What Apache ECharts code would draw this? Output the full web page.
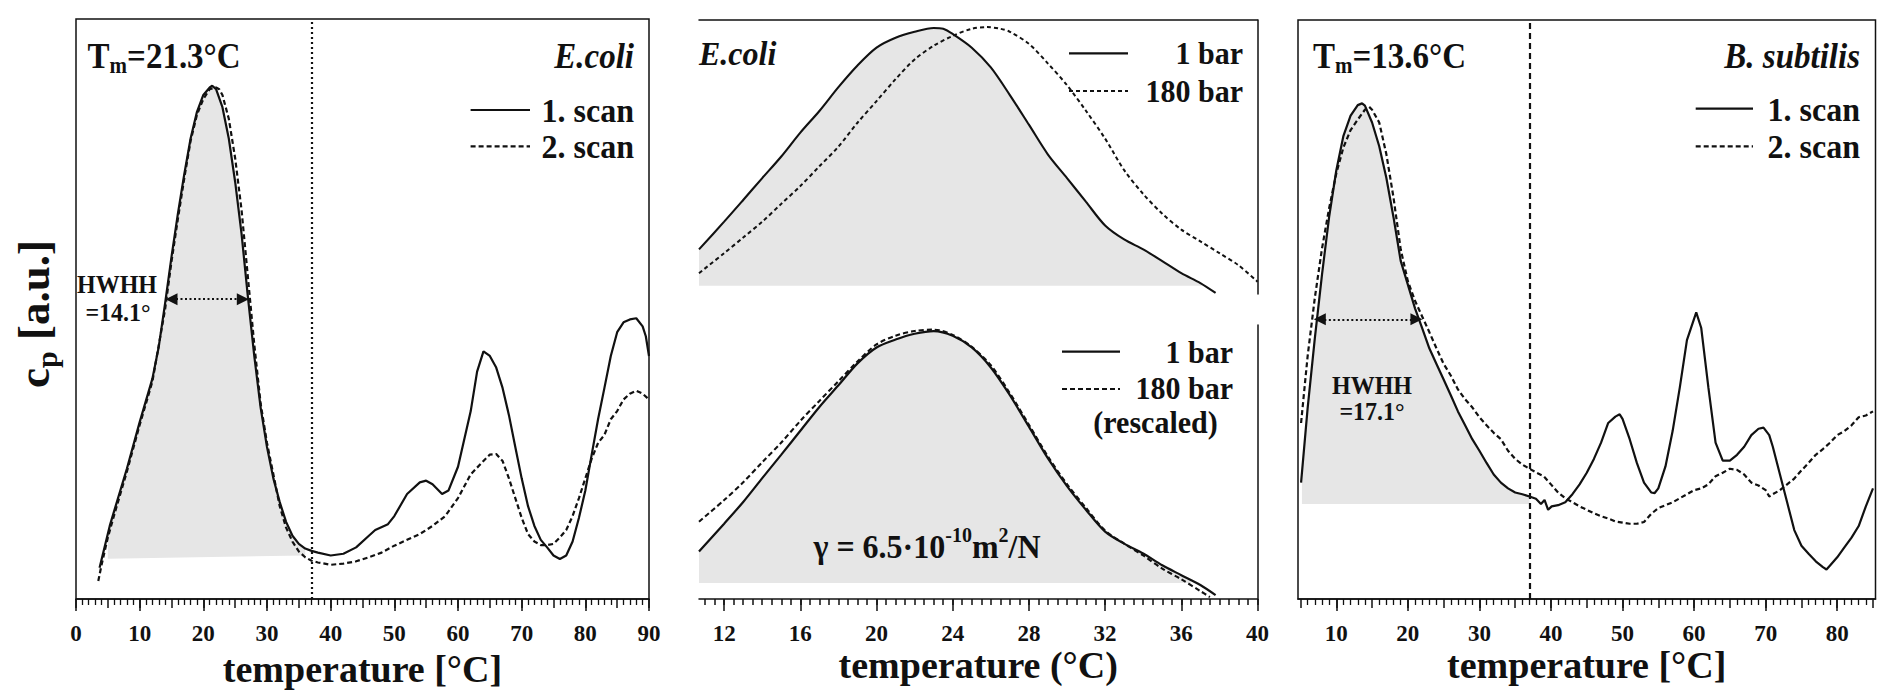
<!DOCTYPE html>
<html>
<head>
<meta charset="utf-8">
<script src="https://cdn.jsdelivr.net/npm/echarts@6/dist/echarts.min.js"></script>
<style>
html, body { margin: 0; padding: 0; background: #fff; }
#chart { width: 1890px; height: 690px; }
</style>
</head>
<body>
<div id="chart"></div>
<script>
// E.coli, two DSC scans [temperature, cp a.u.]
var ecoliScan1 = [[3.7,5.4],[5.3,12.6],[6,15.2],[8,22.5],[10,30.5],[12,38],[13,43.5],[14,51],[15,59],[16,66.4],[17,73.2],[18,79.4],[19,84],[20,86.9],[21,88.2],[21.4,88.5],[22,87.9],[23,84.8],[24,79.4],[25,71.9],[26,63],[27,52.1],[28,41.9],[29,33],[30,26.2],[31,20.8],[32,16.7],[33,13.3],[34,10.9],[35,9.5],[36,8.7],[37,8.3],[38,8],[40,7.5],[42,7.8],[44,8.9],[46,10.9],[47,11.9],[49,12.9],[50,14.3],[52,18.1],[54,20.1],[55,20.4],[56,19.8],[57.5,18.1],[58.5,18.7],[60,22.8],[62,32.4],[63,39.2],[64,42.7],[65,41.9],[66,39.9],[67,36.4],[68,31.7],[69,26.2],[70,20.8],[71,16],[72,12.6],[73,10.2],[74,8.9],[75,7.5],[76,6.9],[77,7.5],[78,9.9],[79,14],[80,18.7],[81,24.9],[82,31],[83,36.4],[84,41.9],[85,46],[86,47.7],[87,48.2],[88,48.4],[89,47],[89.5,45.3],[90,41.9]];
var ecoliScan2 = [[3.5,3.1],[4,5.8],[5,10.6],[6,14.5],[8,22],[10,30],[12,37.5],[14,50],[15,58.2],[16,65.5],[17,72.5],[18,79],[19,83.5],[20,86.2],[21,87.9],[22,88.2],[22.5,87.9],[23,86.9],[24,82.8],[25,76],[26,67.1],[27,55.5],[28,43.9],[29,33.7],[30,26.9],[31,21.5],[32,16],[33,12.3],[34,9.9],[35,8.2],[36,7.2],[37,6.6],[38,6.3],[40,5.9],[42,6.1],[44,6.5],[46,7.2],[48,8],[50,9.2],[52,10.2],[54,11.2],[56,12.6],[58,14.3],[60,17.4],[62,21.5],[64,23.8],[65,24.9],[66,25],[67,23.8],[68,20.8],[69,17.4],[70,14],[71,11.2],[72,9.9],[73,9.3],[74,9.3],[75,9.5],[76,10.6],[77,11.9],[78,14.3],[79,17.4],[80,20.8],[81,24.2],[82,26.9],[83,28.3],[84,31],[85,32.4],[86,34.4],[87,35.4],[88,35.9],[89,35.4],[90,34.4]];
var ecoliFillSpan = [5.0, 36.0];
var ecoliFillBase = [6.95, 7.5];
var ecoliHwhh = [15.0, 26.2, 51.7];
var ecoliTicks = [0, 10, 20, 30, 40, 50, 60, 70, 80, 90];

// E.coli, 1 bar vs 180 bar
var barUpper1 = [[10.68,16.3],[12,26.4],[13,34.3],[14,42.3],[15,50.2],[16,58.9],[17,66.8],[18,75.5],[19,83.4],[20,89.9],[21,93.5],[22,95.7],[23,97.1],[23.5,96.8],[24,94.9],[25,89.9],[26,82.7],[27,72.6],[28,61.8],[29,50.9],[30,42.3],[31,33.6],[32,25],[33,19.9],[34,16.3],[35,12],[36,7.6],[37,4],[37.8,0.4]];
var barUpper180 = [[10.68,7.6],[12,14.9],[13,20.6],[14,26.4],[15,32.9],[16,39.4],[17,46.6],[18,53.8],[19,62.5],[20,70.4],[21,78.4],[22,85.6],[23,90.6],[24,94.2],[25,96.8],[25.8,97.4],[26.5,96.8],[27,95.7],[28,91.3],[29,84.1],[30,76.2],[31,66.8],[32,56.7],[33,45.2],[34,36.5],[35,29.3],[36,23.5],[37,19.2],[38,14.9],[39,10.5],[40,4.5]];
var barLower1 = [[10.68,17.3],[12,27.5],[13,35.4],[14,44.1],[15,52.7],[16,61.4],[17,70.1],[18,78],[19,86],[20,91.8],[21,94.7],[22,96.8],[23,97.8],[24,96.1],[25,91.8],[26,84.5],[27,74.4],[28,62.9],[29,51.3],[30,41.2],[31,32.5],[32,24.6],[33,20.2],[34,16.6],[35,12.3],[36,8.7],[37,5.1],[37.8,1.4]];
var barLower180 = [[10.68,28.2],[12,36.1],[13,42.6],[14,49.9],[15,57.1],[16,65],[17,72.3],[18,79.5],[19,86.7],[20,92.9],[21,96.1],[22,97.8],[23,98.3],[24,96.4],[25,92],[26,85.3],[27,75.1],[28,63.6],[29,52],[30,41.9],[31,33.2],[32,25],[33,20.2],[34,15.9],[35,11.1],[36,7.2],[37,2.9],[37.5,0.7]];
var barUpperSpan = [10.68, 37.25];
var barUpperBase = [3.0, 3.0];
var barLowerSpan = [10.68, 36.5];
var barLowerBase = [5.8, 5.8];
var barTicks = [12, 16, 20, 24, 28, 32, 36, 40];

// B. subtilis, two scans
var bsubScan1 = [[5.08,20.1],[6,33],[7,45],[8,56],[9,66],[10,74],[11,80],[12,83.5],[13,85.3],[13.6,85.6],[14,85.2],[15,82.3],[16,78.2],[17,72.7],[18,65.9],[19,58.4],[20,54.3],[21,50.2],[22,46.8],[23,43.3],[24,40.6],[25,37.9],[26,35.2],[27,32.4],[28,30],[29,27.6],[30,25.6],[31,23.5],[32,21.5],[33,20.1],[34,19.1],[35,18.4],[36,18.1],[37,17.7],[37.9,17.3],[38.6,16.4],[39.1,17.1],[39.6,15.4],[40.1,16],[41,16.2],[42,16.7],[43,18.1],[44,19.8],[45,21.8],[46,24.2],[47,27],[48,30.4],[49,31.5],[49.6,31.9],[50,31.1],[51,27.6],[52,23.5],[53,20.1],[54,18.4],[54.5,18.3],[55,19.1],[56,22.9],[57,29],[58,36.5],[59,44.7],[60.3,49.5],[61,46.8],[62,36.5],[63,27],[64,23.9],[65,23.9],[66,24.9],[67,26.3],[68,28.3],[69,29.4],[69.7,29.6],[70.5,28.3],[71,26.3],[72,21.5],[73,16.7],[74,11.9],[75,9.2],[76,7.8],[77,6.5],[78,5.5],[78.5,5.1],[79,5.8],[80,7.2],[81,8.9],[82,10.6],[83,12.6],[84,16],[85,19.1]];
var bsubScan2 = [[5.08,30.4],[6,42],[7,52],[8,60.5],[9,67.5],[10,73.5],[11,78],[12,81],[13,82.8],[14,84.5],[14.6,85],[15,84.5],[16,82.3],[17,76.8],[18,69.3],[19,60.4],[20,54.9],[21,51.5],[22,48.8],[23,46.1],[24,43.3],[25,40.6],[26,38.6],[27,36.2],[28,34.5],[29,33.1],[30,31.4],[31,30],[32,28.7],[33,27.6],[34,25.6],[35,24.2],[36,23.2],[37,22.5],[38,21.8],[39,21.2],[40,19.8],[41,18.4],[42,17.4],[43,16.7],[44,16],[45,15.4],[46,14.8],[47,14.3],[48,13.9],[49,13.4],[50,13.2],[51,13],[52,13],[53,13.3],[54,14.7],[55,15.7],[56,16.2],[57,16.7],[58,17.4],[59,18.1],[60,18.8],[61,19.1],[62,19.8],[63,21.2],[64,21.8],[65,22.5],[66,22.3],[67,21.5],[68,20.1],[69,19.6],[70,18.8],[70.5,17.7],[71,18.1],[72,18.8],[73,19.8],[74,20.8],[75,22.2],[76,23.5],[77,24.9],[78,25.9],[79,27],[80,28.3],[81,29],[82,30],[83,31.4],[84,31.7],[85,32.4]];
var bsubFillSpan = [5.2, 37];
var bsubFillBase = [16.4, 16.4];
var bsubHwhh = [7.7, 21.2, 48.3];
var bsubTicks = [10, 20, 30, 40, 50, 60, 70, 80];

var chart = echarts.init(document.getElementById('chart'), null, {renderer: 'svg'});

var SERIF = '"Liberation Serif", "Times New Roman", serif';
var INK = '#111';
var GREY = '#e6e6e6';

// panel frames in px
var P1 = {lo: 0, hi: 90, left: 76, right: 649, top: 19, bottom: 599};
var P2 = {lo: 10.68, hi: 40, left: 699, right: 1257.5, top: 20, upperBottom: 294, lowerTop: 325, bottom: 599};
var P3 = {lo: 4.65, hi: 85.35, left: 1298, right: 1875.5, top: 20, bottom: 599};

function box(p, lo, hi, top, bottom, framed) {
    var k = (p.right - p.left) / (p.hi - p.lo);
    var g = {left: p.left + (lo - p.lo) * k, width: (hi - lo) * k, top: top, height: bottom - top,
             containLabel: false, outerBoundsMode: 'none'};
    if (framed) { g.show = true; g.borderColor = INK; g.borderWidth = 1.5; g.backgroundColor = 'transparent'; }
    return g;
}

var lineSt = {show: true, onZero: false, lineStyle: {color: INK, width: 1.5}};
function tickSt(len) { return {show: true, inside: false, length: len, lineStyle: {color: INK, width: 1.5}}; }
var minorSt = {show: true, splitNumber: 5, length: 6, lineStyle: {color: INK, width: 1.3}};
var labelSt = {show: true, margin: 23, color: INK, fontFamily: SERIF, fontWeight: 'bold', fontSize: 23,
               showMinLabel: true, showMaxLabel: true};
var nameSt = {fontFamily: SERIF, fontWeight: 'bold', fontSize: 38, color: INK};

function xAx(grid, min, max, o) {
    return Object.assign({
        type: 'value', gridIndex: grid, min: min, max: max, position: 'bottom',
        axisLine: {show: false}, axisTick: {show: false}, axisLabel: {show: false},
        splitLine: {show: false}, minorTick: {show: false}, minorSplitLine: {show: false}
    }, o || {});
}
function yAx(grid, o) {
    return Object.assign({
        type: 'value', gridIndex: grid, min: 0, max: 100,
        axisLine: {show: false}, axisTick: {show: false}, axisLabel: {show: false},
        splitLine: {show: false}
    }, o || {});
}

function valueAt(pts, t) {
    for (var i = 1; i < pts.length; i++) {
        if (pts[i][0] >= t) {
            var a = pts[i - 1], b = pts[i];
            return a[1] + (b[1] - a[1]) * (t - a[0]) / (b[0] - a[0]);
        }
    }
    return pts[pts.length - 1][1];
}

// grey area under a curve, down to a base line
function fill(grid, pts, span, base) {
    return {
        type: 'custom', xAxisIndex: grid, yAxisIndex: grid, silent: true, z: 1,
        data: [[span[0], base[0]]],
        renderItem: function (params, api) {
            var poly = [api.coord([span[0], base[0]]), api.coord([span[0], valueAt(pts, span[0])])];
            pts.forEach(function (p) {
                if (p[0] > span[0] && p[0] < span[1]) poly.push(api.coord(p));
            });
            poly.push(api.coord([span[1], valueAt(pts, span[1])]));
            poly.push(api.coord([span[1], base[1]]));
            return {type: 'polygon', shape: {points: poly}, style: {fill: GREY}};
        }
    };
}

function curve(name, grid, pts, dash, width, smooth) {
    return {
        name: name, type: 'line', xAxisIndex: grid, yAxisIndex: grid, data: pts,
        showSymbol: false, symbol: 'none', smooth: smooth || 0, z: 3, silent: true,
        lineStyle: {color: INK, width: width || 2.2, type: dash || 'solid'}
    };
}

function vline(x, dash) {
    return {silent: true, symbol: 'none', label: {show: false}, animation: false,
            lineStyle: {color: INK, width: 2.2, type: dash}, data: [{xAxis: x}]};
}
function arrow(h) {
    return {silent: true, symbol: ['triangle', 'triangle'], symbolSize: 12, label: {show: false}, animation: false,
            lineStyle: {color: INK, width: 2.2, type: [2, 2.5]},
            data: [[{coord: [h[0], h[2]]}, {coord: [h[1], h[2]]}]]};
}

function txt(x, y, text, align, size, italic, rich, extra) {
    var font = (italic ? 'italic ' : '') + 'bold ' + size + 'px ' + SERIF;
    return Object.assign({type: 'text', x: x, y: y, silent: true, z: 20, scaleY: 1.08,
            style: {text: text, fill: INK, font: font, textAlign: align, align: align,
                    textVerticalAlign: 'middle', verticalAlign: 'middle', rich: rich}}, extra || {});
}
function key(x1, x2, y, dash, width) {
    return {type: 'line', silent: true, z: 20, shape: {x1: x1, y1: y, x2: x2, y2: y},
            style: {stroke: INK, lineWidth: width || 2.2, lineDash: dash || null}};
}

function tok(size, va, lh) {
    var t = {fontSize: size, fontWeight: 'bold', fontFamily: SERIF, fill: INK, color: INK};
    if (va) t.verticalAlign = va;
    if (lh) t.lineHeight = lh;
    return t;
}
var subRich = {b: tok(33, null, 40), s: tok(21, 'bottom', 21)};
var gammaRich = {b: tok(32, null, 40), u: tok(20, 'top', 20)};
var cpRich = {b: tok(45, null, 54), s: tok(30, 'bottom', 30)};

option = {
    animation: false,
    backgroundColor: '#fff',
    grid: [
        box(P1, 0, 90, P1.top, P1.bottom, true),
        box(P1, 0, 90, P1.top, P1.bottom),
        box(P2, P2.lo, 40, P2.top, P2.upperBottom),
        box(P2, P2.lo, 40, P2.lowerTop, P2.bottom),
        box(P2, 11, 40, P2.lowerTop, P2.bottom),
        box(P2, barTicks[0], 40, P2.lowerTop, P2.bottom),
        box(P3, P3.lo, P3.hi, P3.top, P3.bottom, true),
        box(P3, 5, 85, P3.top, P3.bottom),
        box(P3, bsubTicks[0], bsubTicks[bsubTicks.length - 1], P3.top, P3.bottom)
    ],
    xAxis: [
        xAx(0, ecoliTicks[0], ecoliTicks[ecoliTicks.length - 1], {
            interval: ecoliTicks[1] - ecoliTicks[0], axisLine: lineSt, axisTick: tickSt(12), axisLabel: labelSt,
            name: 'temperature [°C]', nameLocation: 'middle', nameGap: 47, nameTextStyle: nameSt
        }),
        xAx(1, 0, 90, {interval: 5, axisTick: tickSt(9), minorTick: minorSt}),
        xAx(2, P2.lo, 40, {position: 'top', axisLine: lineSt}),
        xAx(3, P2.lo, 40, {axisLine: lineSt, name: 'temperature (°C)', nameLocation: 'middle', nameGap: 47, nameTextStyle: nameSt}),
        xAx(4, 11, 40, {interval: 0.5, axisTick: tickSt(6)}),
        xAx(5, barTicks[0], barTicks[barTicks.length - 1], {interval: barTicks[1] - barTicks[0], axisTick: tickSt(12), axisLabel: labelSt}),
        xAx(6, P3.lo, P3.hi, {axisLine: lineSt, name: 'temperature [°C]', nameLocation: 'middle', nameGap: 47, nameTextStyle: nameSt}),
        xAx(7, 5, 85, {interval: 5, axisTick: tickSt(9), minorTick: minorSt}),
        xAx(8, bsubTicks[0], bsubTicks[bsubTicks.length - 1], {interval: bsubTicks[1] - bsubTicks[0], axisTick: tickSt(12), axisLabel: labelSt})
    ],
    yAxis: [
        yAx(0),
        yAx(1, {show: false}),
        yAx(2, {position: 'right', axisLine: lineSt}),
        yAx(3, {position: 'right', axisLine: lineSt}),
        yAx(4, {show: false}),
        yAx(5, {show: false}),
        yAx(6),
        yAx(7, {show: false}),
        yAx(8, {show: false})
    ],
    series: [
        fill(0, ecoliScan1, ecoliFillSpan, ecoliFillBase),
        Object.assign(curve('1. scan', 0, ecoliScan1), {markLine: vline(37, [2, 3])}),
        Object.assign(curve('2. scan', 0, ecoliScan2, [5, 3], 2.2), {markLine: arrow(ecoliHwhh)}),

        fill(2, barUpper1, barUpperSpan, barUpperBase),
        curve('1 bar', 2, barUpper1, null, 2.1, 0.3),
        curve('180 bar', 2, barUpper180, [4, 3], 2, 0.3),
        fill(3, barLower1, barLowerSpan, barLowerBase),
        curve('1 bar', 3, barLower1, null, 2.2, 0.3),
        curve('180 bar (rescaled)', 3, barLower180, [5, 3], 2.1, 0.3),

        fill(6, bsubScan1, bsubFillSpan, bsubFillBase),
        Object.assign(curve('1. scan', 6, bsubScan1), {markLine: vline(37, [6, 4])}),
        Object.assign(curve('2. scan', 6, bsubScan2, [5, 3], 2.2), {markLine: arrow(bsubHwhh)})
    ],
    graphic: [
        // shared y label
        txt(34, 314, '{b|c}{s|p}{b| [a.u.]}', 'center', 45, false, cpRich, {rotation: Math.PI / 2, scaleY: 1}),
        // left panel
        txt(87.6, 55.4, '{b|T}{s|m}{b|=21.3°C}', 'left', 33, false, subRich),
        txt(634, 55.4, 'E.coli', 'right', 33, true),
        key(470.6, 530, 110), txt(634, 110, '1. scan', 'right', 32),
        key(470.6, 530, 146.3, [5, 3]), txt(634, 146.3, '2. scan', 'right', 32),
        txt(117, 284, 'HWHH', 'center', 24), txt(118, 312, '=14.1°', 'center', 24),
        // middle panel
        txt(699, 53.4, 'E.coli', 'left', 32, true),
        key(1069, 1128, 53.4), txt(1243, 53.4, '1 bar', 'right', 30),
        key(1069, 1128, 91, [4, 3], 2), txt(1243, 91, '180 bar', 'right', 30),
        key(1062, 1120, 351.7), txt(1233, 352, '1 bar', 'right', 30),
        key(1062, 1120, 389, [5, 3], 2), txt(1233, 388, '180 bar', 'right', 30),
        txt(1155.5, 422, '(rescaled)', 'center', 30),
        txt(927, 545.7, '{b|γ = 6.5·10}{u|-10}{b|m}{u|2}{b|/N}', 'center', 32, false, gammaRich),
        // right panel
        txt(1313, 55.4, '{b|T}{s|m}{b|=13.6°C}', 'left', 33, false, subRich),
        txt(1860, 55.4, 'B. subtilis', 'right', 33, true),
        key(1695.7, 1753, 108.7), txt(1860, 108.7, '1. scan', 'right', 32),
        key(1695.7, 1753, 146.3, [5, 3]), txt(1860, 146.3, '2. scan', 'right', 32),
        txt(1372, 385.5, 'HWHH', 'center', 24), txt(1372, 411, '=17.1°', 'center', 24)
    ]
};

chart.setOption(option);
window.onresize = chart.resize;
</script>
</body>
</html>
